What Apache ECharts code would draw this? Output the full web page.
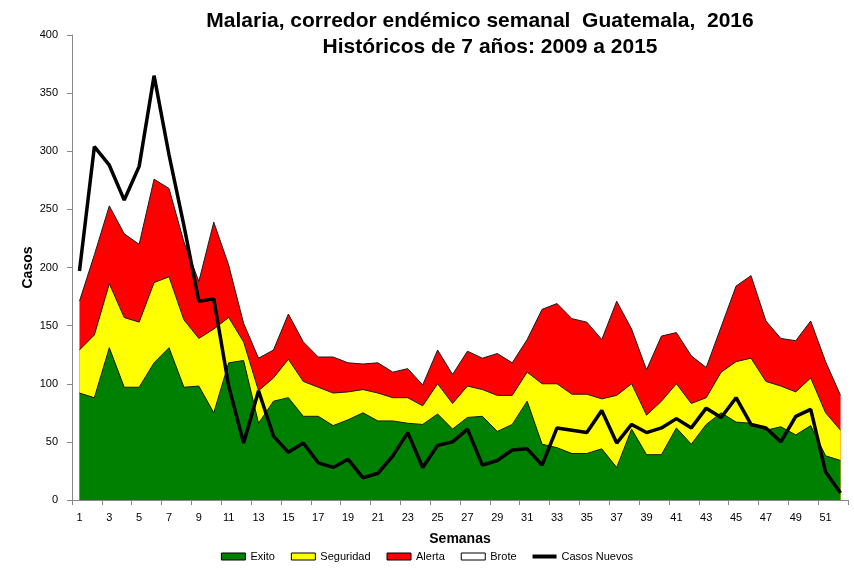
<!DOCTYPE html>
<html>
<head>
<meta charset="utf-8">
<title>Malaria corredor endémico</title>
<script src="https://cdn.jsdelivr.net/npm/echarts@6/dist/echarts.min.js"></script>
<style>
  html, body { margin: 0; padding: 0; background: #fff; }
  #chart { width: 854px; height: 569px; }
</style>
</head>
<body>
<div id="chart"></div>
<script>
// semanas epidemiologicas
const semanas = ['1', '2', '3', '4', '5', '6', '7', '8', '9', '10', '11', '12', '13',
  '14', '15', '16', '17', '18', '19', '20', '21', '22', '23', '24', '25', '26',
  '27', '28', '29', '30', '31', '32', '33', '34', '35', '36', '37', '38', '39',
  '40', '41', '42', '43', '44', '45', '46', '47', '48', '49', '50', '51', '52']

// limites del corredor (valores acumulados)
const exito = [92, 88, 131, 97, 97, 118, 131, 97, 98, 75, 118, 120, 66,
  85, 88, 72, 72, 64, 69, 75, 68, 68, 66, 65, 74, 61,
  71, 72, 59, 65, 85, 48, 45, 40, 40, 44, 28, 61, 39,
  39, 62, 48, 65, 75, 67, 66, 60, 63, 56, 64, 38, 34]

const seguridad = [129, 142, 186, 157, 153, 187, 192, 155, 139, 147, 157, 136, 94,
  105, 121, 102, 97, 92, 93, 95, 92, 88, 88, 81, 100, 83,
  98, 95, 90, 90, 110, 100, 100, 91, 91, 87, 90, 100, 73,
  85, 100, 83, 88, 110, 119, 122, 102, 98, 93, 105, 75, 60]

const alerta = [171, 211, 253, 229, 220, 276, 268, 222, 188, 239, 202, 152, 122,
  129, 160, 136, 123, 123, 118, 117, 118, 110, 113, 99, 129, 108,
  128, 122, 126, 118, 138, 164, 169, 156, 153, 138, 171, 147, 112,
  141, 144, 124, 114, 149, 184, 193, 154, 139, 137, 154, 119, 90]

// casos nuevos 2016
const casosNuevos = [197, 304, 288, 258, 287, 365, 297, 236, 171, 173, 98, 49, 94,
  55, 41, 49, 32, 28, 35, 19, 23, 38, 58, 28, 47, 50,
  61, 30, 34, 43, 44, 30, 62, 60, 58, 77, 49, 65, 58,
  62, 70, 62, 79, 71, 88, 65, 62, 50, 72, 78, 24, 6]

const chart = echarts.init(document.getElementById('chart'))

const edge = { color: '#1a1a1a', width: 1 }
const boxIcon = { borderColor: '#000', borderWidth: 1 }
const titleFont = { fontSize: 21, fontWeight: 'bold', color: '#000', fontFamily: 'Liberation Sans' }

chart.setOption({
  animation: false,
  backgroundColor: '#fff',
  textStyle: { fontFamily: 'Liberation Sans' },
  title: [
    {
      text: 'Malaria, corredor endémico semanal  Guatemala,  2016',
      left: 475,
      top: 6,
      textAlign: 'center',
      textStyle: titleFont
    },
    {
      text: 'Históricos de 7 años: 2009 a 2015',
      left: 485,
      top: 32,
      textAlign: 'center',
      textStyle: titleFont
    }
  ],
  grid: {
    left: 72,
    right: 6,
    top: 35,
    bottom: 69
  },
  legend: {
    bottom: 2,
    left: 'center',
    itemWidth: 24,
    itemHeight: 7,
    itemGap: 16,
    textStyle: { fontSize: 11, color: '#000' },
    data: [
      { name: 'Exito', icon: 'rect', itemStyle: boxIcon },
      { name: 'Seguridad', icon: 'rect', itemStyle: boxIcon },
      { name: 'Alerta', icon: 'rect', itemStyle: boxIcon },
      { name: 'Brote', icon: 'rect', itemStyle: boxIcon },
      { name: 'Casos Nuevos', icon: 'path://M0,0 L24,0 L24,4 L0,4 Z', itemStyle: { color: '#000', borderWidth: 0 } }
    ]
  },
  xAxis: {
    type: 'category',
    data: semanas,
    boundaryGap: true,
    name: 'Semanas',
    nameLocation: 'middle',
    nameGap: 32,
    nameTextStyle: { fontSize: 14, fontWeight: 'bold', color: '#000' },
    axisLine: { lineStyle: { color: '#888' } },
    axisTick: { show: true, length: 5, lineStyle: { color: '#888' } },
    axisLabel: { interval: 1, fontSize: 11, color: '#000', margin: 12 },
    splitLine: { show: false }
  },
  yAxis: {
    type: 'value',
    min: 0,
    max: 400,
    interval: 50,
    name: 'Casos',
    nameLocation: 'middle',
    nameGap: 37,
    nameMoveOverlap: false,
    nameTextStyle: { fontSize: 14, fontWeight: 'bold', color: '#000' },
    axisLine: { show: true, lineStyle: { color: '#888' } },
    axisTick: { show: true, length: 5, lineStyle: { color: '#888' } },
    axisLabel: { fontSize: 11, color: '#000', margin: 14 },
    splitLine: { show: false }
  },
  series: [
    {
      name: 'Brote',
      type: 'line',
      data: [],
      symbol: 'none',
      itemStyle: { color: '#fff' },
      lineStyle: { color: '#000', width: 1 }
    },
    {
      name: 'Alerta',
      type: 'line',
      data: alerta,
      symbol: 'none',
      z: 2,
      itemStyle: { color: '#ff0000' },
      lineStyle: edge,
      areaStyle: { color: '#ff0000', opacity: 1 }
    },
    {
      name: 'Seguridad',
      type: 'line',
      data: seguridad,
      symbol: 'none',
      z: 3,
      itemStyle: { color: '#ffff00' },
      lineStyle: edge,
      areaStyle: { color: '#ffff00', opacity: 1 }
    },
    {
      name: 'Exito',
      type: 'line',
      data: exito,
      symbol: 'none',
      z: 4,
      itemStyle: { color: '#008000' },
      lineStyle: edge,
      areaStyle: { color: '#008000', opacity: 1 }
    },
    {
      name: 'Casos Nuevos',
      type: 'line',
      data: casosNuevos,
      symbol: 'none',
      z: 5,
      itemStyle: { color: '#000' },
      lineStyle: { color: '#000', width: 3.5 }
    }
  ]
})
</script>
</body>
</html>
